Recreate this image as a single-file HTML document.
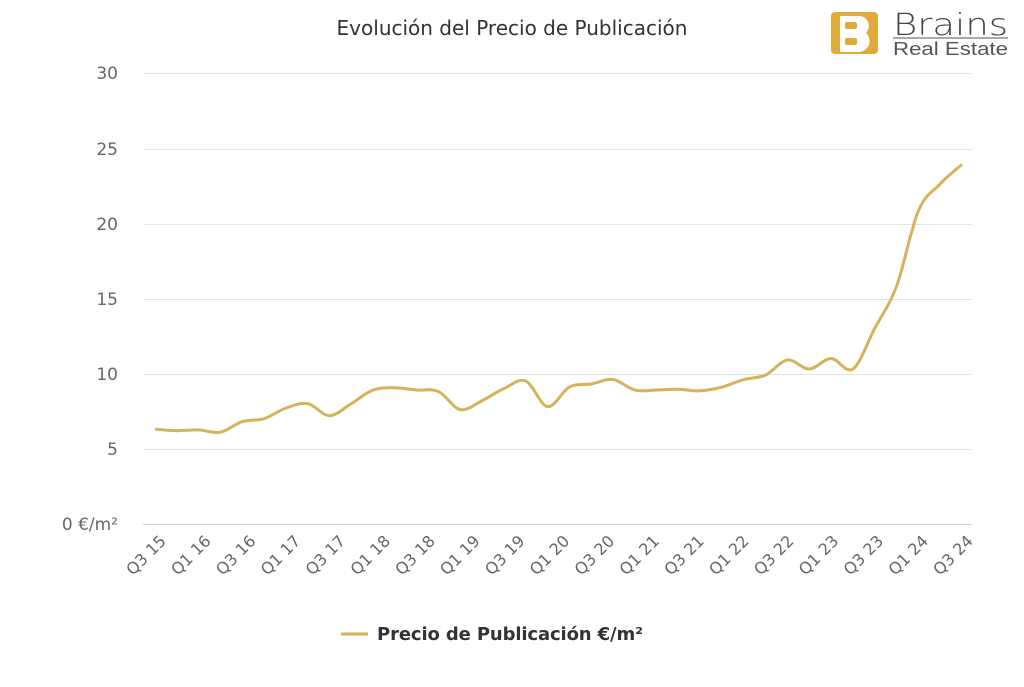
<!DOCTYPE html>
<html><head><meta charset="utf-8"><style>
body{margin:0;background:#fff;width:1024px;height:683px;overflow:hidden;font-family:"DejaVu Sans","Liberation Sans",sans-serif}
</style></head><body>
<svg id="s" width="1024" height="683" xmlns="http://www.w3.org/2000/svg">
<text x="512" y="35" text-anchor="middle" font-size="20" fill="#333" font-family="DejaVu Sans, sans-serif">Evolución del Precio de Publicación</text>
<rect x="831" y="12" width="47" height="42" rx="4" fill="#e2a93b"/>
<path d="M840 16h20a10 10 0 0 1 6 17a11 11 0 0 1 -6 19h-20z" fill="#fff"/>
<rect x="845" y="22" width="12" height="7" rx="2" fill="#e2a93b"/>
<rect x="845" y="38" width="12" height="7" rx="2" fill="#e2a93b"/>
<text x="893" y="35" font-size="30" fill="#444" font-family="DejaVu Sans, sans-serif" font-weight="300" textLength="115" lengthAdjust="spacingAndGlyphs">Brains</text>
<line x1="893" y1="38" x2="1008" y2="38" stroke="#555" stroke-width="1"/>
<text x="893" y="55" font-size="18" fill="#555" font-family="Liberation Sans, sans-serif" textLength="115" lengthAdjust="spacingAndGlyphs">Real Estate</text>
<g stroke="#e3e3e3" stroke-width="1">
<line x1="143" y1="73.5" x2="972" y2="73.5"/><line x1="143" y1="149.5" x2="972" y2="149.5"/>
<line x1="143" y1="224.5" x2="972" y2="224.5"/><line x1="143" y1="299.5" x2="972" y2="299.5"/>
<line x1="143" y1="374.5" x2="972" y2="374.5"/><line x1="143" y1="449.5" x2="972" y2="449.5"/>
</g>
<line x1="143" y1="524.5" x2="972" y2="524.5" stroke="#b7d3e6" stroke-width="1"/>
<g font-size="17" fill="#666" text-anchor="end">
<text x="118" y="79">30</text><text x="118" y="155">25</text><text x="118" y="230">20</text>
<text x="118" y="305">15</text><text x="118" y="380">10</text><text x="118" y="455">5</text>
<text x="118" y="530">0 €/m²</text>
</g>
<g id="xl" font-size="16" fill="#666" text-anchor="end"></g>
<path id="ln" fill="none" stroke="#d4b35a" stroke-width="3" stroke-linejoin="round"/>
<line x1="341" y1="634" x2="368" y2="634" stroke="#d4b35a" stroke-width="3"/>
<text x="377" y="640" font-size="18" font-weight="bold" fill="#333" textLength="266">Precio de Publicación €/m²</text>
</svg>
<script>
var v=[6.3,6.2,6.25,6.1,6.8,7.0,7.7,8.0,7.2,8.0,8.9,9.05,8.9,8.8,7.6,8.2,9.0,9.5,7.8,9.1,9.3,9.6,8.9,8.9,8.95,8.85,9.1,9.6,9.9,10.9,10.3,11.0,10.3,13.0,15.8,20.8,22.6,23.9];
var p=v.map(function(y,i){return [155+i*(962-155)/(v.length-1),524-y*15.05];});
var d="M"+p[0][0]+" "+p[0][1];
for(var i=0;i<p.length-1;i++){var a=p[Math.max(0,i-1)],b=p[i],c=p[i+1],e=p[Math.min(p.length-1,i+2)];
d+=" C"+(b[0]+(c[0]-a[0])/6)+" "+(b[1]+(c[1]-a[1])/6)+" "+(c[0]-(e[0]-b[0])/6)+" "+(c[1]-(e[1]-b[1])/6)+" "+c[0]+" "+c[1];}
document.getElementById("ln").setAttribute("d",d);
var labs=["Q3 15","Q1 16","Q3 16","Q1 17","Q3 17","Q1 18","Q3 18","Q1 19","Q3 19","Q1 20","Q3 20","Q1 21","Q3 21","Q1 22","Q3 22","Q1 23","Q3 23","Q1 24","Q3 24"];
var g=document.getElementById("xl"),h="";
labs.forEach(function(t,i){var x=167+i*(962-155)/18,y=542;h+='<text transform="translate('+x+','+y+') rotate(-45)">'+t+'</text>';});
g.innerHTML=h;
</script>
</body></html>
